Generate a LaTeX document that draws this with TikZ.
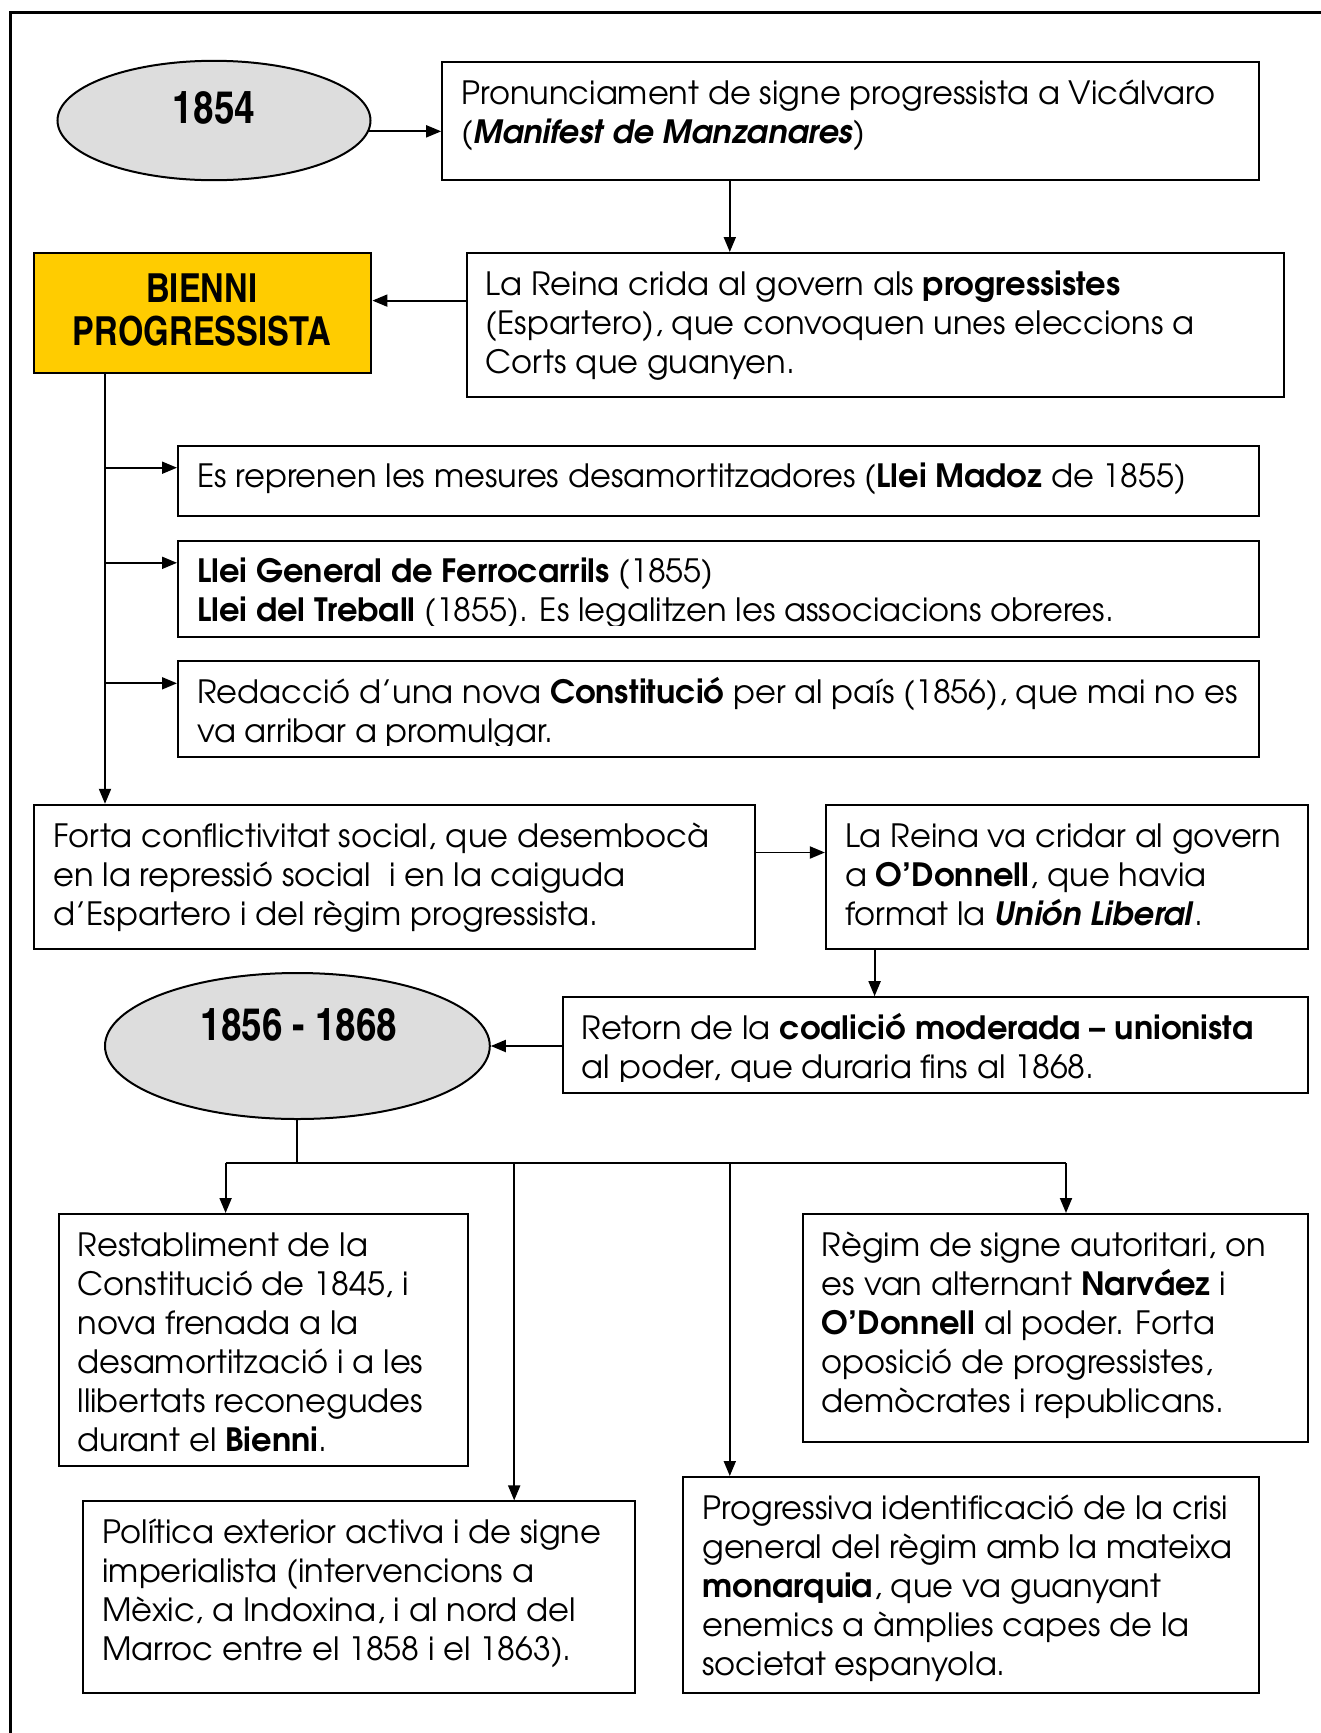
\documentclass[tikz,border=0pt]{standalone}
\usepackage{fontspec}
\setmainfont{texgyreadventor}[Extension=.otf, UprightFont=*-regular, BoldFont=*-bold, ItalicFont=*-italic, BoldItalicFont=*-bolditalic]
\newfontfamily\condfont{texgyreheroscn}[Extension=.otf, UprightFont=*-regular, BoldFont=*-bold]
\usetikzlibrary{arrows.meta,shapes.geometric}
\definecolor{ellfill}{RGB}{221,221,221}
\definecolor{bienniyellow}{RGB}{255,204,0}
\newcommand\bodyfont{\fontsize{32.1}{39}\selectfont}
\newcommand\yrfont{\condfont\bfseries\fontsize{45}{45}\selectfont}
\newcommand\bifont{\condfont\bfseries\fontsize{40}{43}\selectfont}
\newcommand\Fst{\rule{0pt}{32pt}}
\tikzset{
  bx/.style={draw, line width=2pt, rectangle, inner sep=0pt, anchor=north west},
  tx/.style={anchor=north west, inner sep=0pt, align=left, font=\bodyfont},
  arr/.style={line width=1.9pt, -{Triangle[length=15pt,width=12pt]}},
  ln/.style={line width=1.9pt},
  yr/.style={font=\yrfont, inner sep=0pt},
  ell/.style={draw, ellipse, fill=ellfill, line width=2pt, inner sep=0pt},
}
\begin{document}
\begin{tikzpicture}[x=1pt,y=-1pt]
\useasboundingbox (0,0) rectangle (1321,1733);
% frame (left and top edges visible)
\draw[line width=3pt] (10,1745) -- (10,12) -- (1335,12);

% ---- top part
\node[ell, minimum width=313pt, minimum height=119.4pt] (e1) at (214,120.5) {};
\node[yr] (e1t) at (214,108.4) {1854};

\node[bx, minimum width=817.1pt, minimum height=118.3pt] (b1) at (441.2,60.8) {};
\node[tx] (b1t) at ([xshift=20pt,yshift=-11pt]b1.north west)
  {\Fst Pronunciament de signe progressista a Vicálvaro\\
   \textit{(}\textbf{\textit{Manifest de Manzanares}}\textit{)}};

\node[bx, fill=bienniyellow, minimum width=337.2pt, minimum height=119.4pt] (bi) at (33.2,252.1) {};
\node[font=\bifont, align=center, inner sep=0pt] (bit) at (201.8,310.2) {BIENNI\\PROGRESSISTA};

\node[bx, minimum width=817.1pt, minimum height=143.8pt] (b2) at (465.5,252) {};
\node[tx] (b2t) at ([xshift=20pt,yshift=-11pt]b2.north west)
  {\Fst La Reina crida al govern als \textbf{progressistes}\\
   (Espartero), que convoquen unes eleccions a\\
   Corts que guanyen.};

% ---- measures of the Bienni
\node[bx, minimum width=1081.3pt, minimum height=70.8pt] (a) at (177,444.5) {};
\node[tx] (at) at ([xshift=20pt,yshift=-11pt]a.north west)
  {\Fst Es reprenen les mesures desamortitzadores (\textbf{Llei Madoz} de 1855)};

\node[bx, minimum width=1081.3pt, minimum height=96.2pt] (b) at (177,539.6) {};
\begin{scope}
\clip (b.north west) rectangle ([yshift=-85.5pt]b.north east);
\node[tx] (bt) at ([xshift=20pt,yshift=-11pt]b.north west)
  {\Fst\textbf{Llei General de Ferrocarrils} (1855)\\
   \textbf{Llei del Treball} (1855). Es legalitzen les associacions obreres.};
\end{scope}

\node[bx, minimum width=1081.3pt, minimum height=96.3pt] (c) at (177,660) {};
\begin{scope}
\clip (c.north west) rectangle ([yshift=-85.5pt]c.north east);
\node[tx] (ct) at ([xshift=20pt,yshift=-11pt]c.north west)
  {\Fst Redacció d’una nova \textbf{Constitució} per al país (1856), que mai no es\\
   va arribar a promulgar.};
\end{scope}

% ---- end of the Bienni
\node[bx, minimum width=720.8pt, minimum height=143.8pt] (d) at (33.2,803.8) {};
\node[tx] (dt) at ([xshift=20pt,yshift=-11pt]d.north west)
  {\Fst Forta conflictivitat social, que desembocà\\
   en la repressió social~ i en la caiguda\\
   d’Espartero i del règim progressista.};

\node[bx, minimum width=482.1pt, minimum height=143.8pt] (e) at (824.9,803.8) {};
\node[tx] (et) at ([xshift=20pt,yshift=-11pt]e.north west)
  {\Fst La Reina va cridar al govern\\
   a \textbf{O’Donnell}, que havia\\
   format la \textbf{\textit{Unión Liberal}}.};

\node[bx, minimum width=745.3pt, minimum height=96.2pt] (f) at (561.7,996.2) {};
\begin{scope}
\clip (f.north west) rectangle ([yshift=-85.5pt]f.north east);
\node[tx] (ft) at ([xshift=20pt,yshift=-11pt]f.north west)
  {\Fst Retorn de la \textbf{coalició moderada – unionista}\\
   al poder, que duraria fins al 1868.};
\end{scope}

\node[ell, minimum width=384.8pt, minimum height=146pt] (e2) at (297.4,1046) {};
\node[yr] (e2t) at (299,1025) {1856 - 1868};

% ---- 1856-1868
\node[bx, minimum width=409.1pt, minimum height=252pt] (g) at (57.5,1213) {};
\node[tx] (gt) at ([xshift=20pt,yshift=-11pt]g.north west)
  {\Fst Restabliment de la\\
   Constitució de 1845, i\\
   nova frenada a la\\
   desamortització i a les\\
   llibertats reconegudes\\
   durant el \textbf{Bienni}.};

\node[bx, minimum width=551.8pt, minimum height=191.3pt] (h) at (81.8,1500.4) {};
\node[tx] (ht) at ([xshift=20pt,yshift=-11pt]h.north west)
  {\Fst Política exterior activa i de signe\\
   imperialista (intervencions a\\
   Mèxic, a Indoxina, i al nord del\\
   Marroc entre el 1858 i el 1863).};

\node[bx, minimum width=505.4pt, minimum height=227.7pt] (i) at (801.6,1213) {};
\node[tx] (it) at ([xshift=20pt,yshift=-11pt]i.north west)
  {\Fst Règim de signe autoritari, on\\
   es van alternant \textbf{Narváez} i\\
   \textbf{O’Donnell} al poder. Forta\\
   oposició de progressistes,\\
   demòcrates i republicans.};

\node[bx, minimum width=576.1pt, minimum height=215.7pt] (j) at (682.2,1476) {};
\node[tx] (jt) at ([xshift=20pt,yshift=-11pt]j.north west)
  {\Fst Progressiva identificació de la crisi\\
   general del règim amb la mateixa\\
   \textbf{monarquia}, que va guanyant\\
   enemics a àmplies capes de la\\
   societat espanyola.};

% ---- connectors
\draw[arr] (e1.-4.13) -- (e1.-4.13 -| b1.west);
\coordinate (c1) at (729.8,0);
\draw[arr] (c1 |- b1.south) -- (c1 |- b2.north);
\coordinate (bi-in) at ([yshift=12.2pt]bi.east);
\draw[arr] (b2.west |- bi-in) -- (bi-in);

\coordinate (tr) at (105,0);
\draw[arr] (tr |- bi.south) -- (tr |- d.north);
\coordinate (a-in) at ([yshift=-23.2pt]a.north west);
\coordinate (b-in) at ([yshift=-23.2pt]b.north west);
\coordinate (c-in) at ([yshift=-23.3pt]c.north west);
\draw[arr] (tr |- a-in) -- (a-in);
\draw[arr] (tr |- b-in) -- (b-in);
\draw[arr] (tr |- c-in) -- (c-in);

\coordinate (e-in) at ([yshift=-48.7pt]e.north west);
\draw[arr] (d.east |- e-in) -- (e-in);
\coordinate (ef) at (874.6,0);
\draw[arr] (ef |- e.south) -- (ef |- f.north);
\draw[arr] (e2.east -| f.west) -- (e2.east);

\coordinate (bx1) at (225.6,1163.2);
\coordinate (bx2) at (514.2,1163.2);
\coordinate (bx3) at (729.8,1163.2);
\coordinate (bx4) at (1066,1163.2);
\draw[ln] (e2.south) -- (e2.south |- bx1);
\draw[ln] (bx1) -- (bx4);
\draw[arr] (bx1) -- (bx1 |- g.north);
\draw[arr] (bx2) -- (bx2 |- h.north);
\draw[arr] (bx3) -- (bx3 |- j.north);
\draw[arr] (bx4) -- (bx4 |- i.north);
\end{tikzpicture}
\end{document}
